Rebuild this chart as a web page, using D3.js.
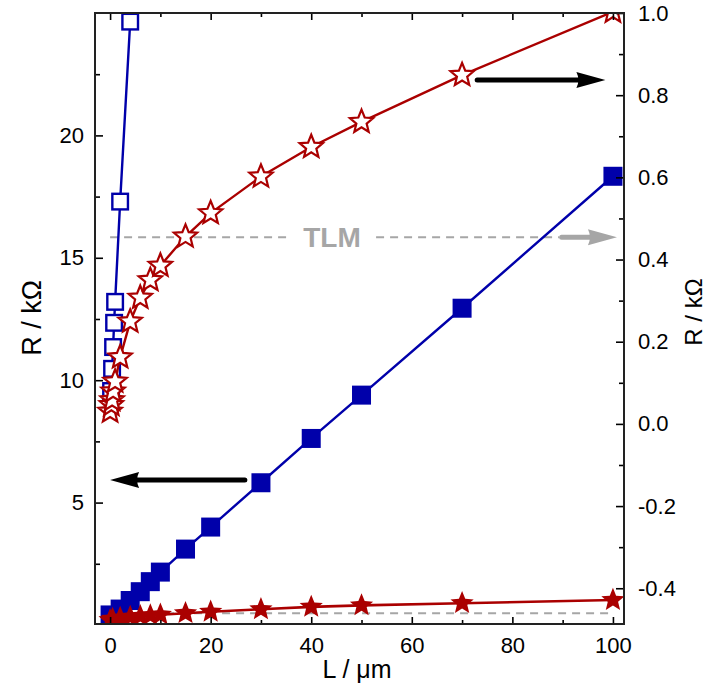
<!DOCTYPE html>
<html>
<head>
<meta charset="utf-8">
<script src="https://cdn.jsdelivr.net/npm/d3@7"></script>
<style>
  body { margin: 0; background: #fff; }
  text { font-family: "Liberation Sans", Arial, sans-serif; }
</style>
</head>
<body>
<div id="chart"></div>
<script>
// ---- data ----
// filled squares, left axis (kOhm)
var sqFilledL = [0, 2, 4, 6, 8, 10, 15, 20, 30, 40, 50, 70, 100];
var sqFilledR = [0.41, 0.65, 1.0, 1.36, 1.77, 2.16, 3.1, 4.0, 5.81, 7.62, 9.39, 12.94, 18.33];
// open squares, right axis (kOhm)
var sqOpenL = [0.2, 0.4, 0.6, 0.8, 1, 2, 4];
var sqOpenR = [0.08, 0.134, 0.187, 0.246, 0.297, 0.541, 0.979];
// open stars, right axis (kOhm)
var starOpenL = [0, 0.25, 0.4, 0.6, 1, 2, 4, 6, 8, 10, 15, 20, 30, 40, 50, 70, 100];
var starOpenR = [0.03, 0.046, 0.058, 0.079, 0.103, 0.162, 0.249, 0.307, 0.35, 0.385, 0.456, 0.513, 0.602, 0.674, 0.735, 0.849, 1.003];
// filled stars, left axis (kOhm)
var starFilledL = [0, 0.5, 2, 4, 6, 8, 10, 15, 20, 30, 40, 50, 70, 100];
var starFilledR = [0.2, 0.25, 0.29, 0.33, 0.36, 0.39, 0.42, 0.48, 0.54, 0.64, 0.74, 0.8, 0.89, 1.02];
// TLM reference level
var tlmRight = 0.454;
var tlmLeft = 0.48;

var xTicks = [0, 20, 40, 60, 80, 100];
var xMinor = [10, 30, 50, 70, 90];
var yLeftTicks = [5, 10, 15, 20];
var yLeftMinor = [2.5, 7.5, 12.5, 17.5, 22.5];
var yRightTicks = [-0.4, -0.2, 0.0, 0.2, 0.4, 0.6, 0.8, 1.0];
var yRightMinor = [-0.3, -0.1, 0.1, 0.3, 0.5, 0.7, 0.9];

var blue = "#0000aa", red = "#aa0000", grey = "#a6a6a6";

// set the dimensions of the graph
var width = 709, height = 691;
var plot = { left: 95, right: 624, top: 13, bottom: 624 };

var x = d3.scaleLinear().domain([-3, 102.2]).range([plot.left, plot.right]);
var yL = d3.scaleLinear().domain([0.04, 25]).range([plot.bottom, plot.top]);
var yR = d3.scaleLinear().domain([-0.487, 1.0]).range([plot.bottom, plot.top]);

var svg = d3.select("#chart").append("svg")
    .attr("width", width)
    .attr("height", height);

svg.append("clipPath").attr("id", "clip")
  .append("rect")
    .attr("x", plot.left).attr("y", plot.top)
    .attr("width", plot.right - plot.left)
    .attr("height", plot.bottom - plot.top);

// star path
function starPath(R, r) {
    var p = [];
    for (var i = 0; i < 10; i++) {
        var a = -Math.PI / 2 + i * Math.PI / 5;
        var rad = i % 2 ? r : R;
        p.push([rad * Math.cos(a), rad * Math.sin(a)]);
    }
    return "M" + p.map(function (d) { return d[0].toFixed(2) + "," + d[1].toFixed(2); }).join("L") + "Z";
}
var star = starPath(12.2, 5.4);

var g = svg.append("g").attr("clip-path", "url(#clip)");

// dashed TLM lines
g.append("line")
    .attr("x1", x(0)).attr("x2", x(100))
    .attr("y1", yL(tlmLeft)).attr("y2", yL(tlmLeft))
    .attr("stroke", grey).attr("stroke-width", 2).attr("stroke-dasharray", "8,6");
g.append("line")
    .attr("x1", x(0)).attr("x2", x(89.3))
    .attr("y1", yR(tlmRight)).attr("y2", yR(tlmRight))
    .attr("stroke", grey).attr("stroke-width", 2).attr("stroke-dasharray", "8,6");

function series(Ls, Rs, yScale) {
    return Ls.map(function (l, i) { return [x(l), yScale(Rs[i])]; });
}
var line = d3.line();

var fsq = series(sqFilledL, sqFilledR, yL);
var osq = series(sqOpenL, sqOpenR, yR);
var ost = series(starOpenL, starOpenR, yR);
var fst = series(starFilledL, starFilledR, yL);

// squares
g.append("path").attr("d", line(fsq)).attr("fill", "none").attr("stroke", blue).attr("stroke-width", 2.4);
g.selectAll(".fsq").data(fsq).enter().append("rect")
    .attr("x", function (d) { return d[0] - 9.5; })
    .attr("y", function (d) { return d[1] - 9.5; })
    .attr("width", 19).attr("height", 19)
    .attr("fill", blue);

g.append("path").attr("d", line(osq)).attr("fill", "none").attr("stroke", blue).attr("stroke-width", 2.4);
g.selectAll(".osq").data(osq).enter().append("rect")
    .attr("x", function (d) { return d[0] - 7.8; })
    .attr("y", function (d) { return d[1] - 7.8; })
    .attr("width", 15.6).attr("height", 15.6)
    .attr("fill", "#fff").attr("stroke", blue).attr("stroke-width", 2.4);

// stars
g.append("path").attr("d", line(ost)).attr("fill", "none").attr("stroke", red).attr("stroke-width", 2.4);
g.selectAll(".ost").data(ost).enter().append("path")
    .attr("d", star)
    .attr("transform", function (d) { return "translate(" + d[0] + "," + d[1] + ")"; })
    .attr("fill", "#fff").attr("stroke", red).attr("stroke-width", 2.2).attr("stroke-linejoin", "miter");

g.append("path").attr("d", line(fst)).attr("fill", "none").attr("stroke", red).attr("stroke-width", 2.6);
g.selectAll(".fst").data(fst).enter().append("path")
    .attr("d", star)
    .attr("transform", function (d) { return "translate(" + d[0] + "," + d[1] + ")"; })
    .attr("fill", red);

// arrows
function arrow(x1, x2, y, color) {
    var dir = x2 > x1 ? 1 : -1;
    var headLen = 29, headH = 8;
    g.append("line")
        .attr("x1", x1).attr("x2", x2 - dir * headLen + dir * 2)
        .attr("y1", y).attr("y2", y)
        .attr("stroke", color).attr("stroke-width", 5).attr("stroke-linecap", "round");
    g.append("path")
        .attr("d", "M" + x2 + "," + y + "L" + (x2 - dir * headLen) + "," + (y - headH) +
            "Q" + (x2 - dir * (headLen - 4)) + "," + y + " " + (x2 - dir * headLen) + "," + (y + headH) + "Z")
        .attr("fill", color);
}
arrow(x(73), x(98.5), yR(0.837), "#000");
arrow(x(26.8), x(0), yL(5.92), "#000");
arrow(x(89.8), x(100.8), yR(tlmRight), grey);

// TLM label
svg.append("rect")
    .attr("x", 290).attr("y", yR(tlmRight) - 14).attr("width", 82).attr("height", 28)
    .attr("fill", "#fff");
svg.append("text")
    .attr("x", 332).attr("y", yR(tlmRight) + 10)
    .attr("text-anchor", "middle")
    .attr("font-size", 28).attr("font-weight", "bold")
    .attr("fill", grey)
    .text("TLM");

// axes
function styleAxis(sel) {
    sel.select(".domain").remove();
    sel.selectAll(".tick line").attr("stroke", "#000").attr("stroke-width", 1.6);
    sel.selectAll("text").attr("font-size", 22).attr("fill", "#000")
        .style("font-family", "'Liberation Sans', Arial, sans-serif");
}

svg.append("g").attr("transform", "translate(0," + plot.bottom + ")")
    .call(d3.axisBottom(x).tickValues(xTicks).tickSize(-7).tickPadding(13).tickFormat(d3.format("d")))
    .call(styleAxis);
svg.append("g").attr("transform", "translate(0," + plot.bottom + ")")
    .call(d3.axisBottom(x).tickValues(xMinor).tickSize(-4).tickFormat(""))
    .call(styleAxis);
svg.append("g").attr("transform", "translate(0," + plot.top + ")")
    .call(d3.axisTop(x).tickValues(xTicks).tickSize(-7).tickFormat(""))
    .call(styleAxis);
svg.append("g").attr("transform", "translate(0," + plot.top + ")")
    .call(d3.axisTop(x).tickValues(xMinor).tickSize(-4).tickFormat(""))
    .call(styleAxis);

svg.append("g").attr("transform", "translate(" + plot.left + ",0)")
    .call(d3.axisLeft(yL).tickValues(yLeftTicks).tickSize(-8).tickPadding(11))
    .call(styleAxis);
svg.append("g").attr("transform", "translate(" + plot.left + ",0)")
    .call(d3.axisLeft(yL).tickValues(yLeftMinor).tickSize(-5).tickFormat(""))
    .call(styleAxis);

svg.append("g").attr("transform", "translate(" + plot.right + ",0)")
    .call(d3.axisRight(yR).tickValues(yRightTicks).tickSize(-8).tickPadding(14)
        .tickFormat(function (d) { return d.toFixed(1); }))
    .call(styleAxis);
svg.append("g").attr("transform", "translate(" + plot.right + ",0)")
    .call(d3.axisRight(yR).tickValues(yRightMinor).tickSize(-5).tickFormat(""))
    .call(styleAxis);

// frame
svg.append("rect")
    .attr("x", plot.left).attr("y", plot.top)
    .attr("width", plot.right - plot.left).attr("height", plot.bottom - plot.top)
    .attr("fill", "none").attr("stroke", "#222").attr("stroke-width", 2);

// axis titles
svg.append("text")
    .attr("transform", "translate(" + 357 + "," + 678 + ")")
    .attr("text-anchor", "middle")
    .attr("font-size", 25)
    .text("L / \u03bcm");

svg.append("text")
    .attr("transform", "translate(" + 41 + "," + 318 + ") rotate(-90)")
    .attr("text-anchor", "middle")
    .attr("font-size", 27)
    .text("R / k\u03a9");

svg.append("text")
    .attr("transform", "translate(" + 702 + "," + 312 + ") rotate(-90)")
    .attr("text-anchor", "middle")
    .attr("font-size", 24)
    .text("R / k\u03a9");
</script>
</body>
</html>
